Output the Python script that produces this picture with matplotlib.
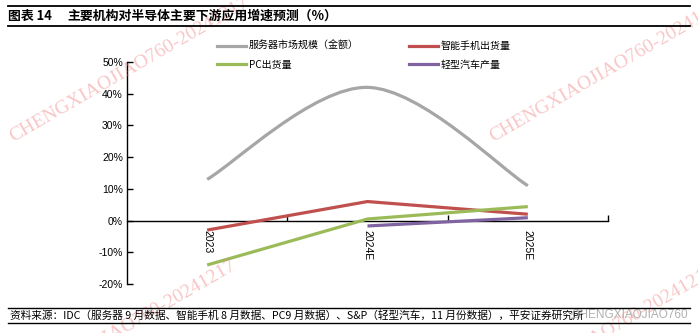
import numpy as np
import matplotlib
matplotlib.use("Agg")
import matplotlib.pyplot as plt
from matplotlib.path import Path
from matplotlib.patches import PathPatch
from matplotlib.lines import Line2D
from matplotlib.ticker import FixedLocator, FuncFormatter

plt.rcParams['font.family'] = ['Liberation Sans', 'Noto Sans CJK SC', 'DejaVu Sans']
CJK = ['Noto Sans CJK SC', 'DejaVu Sans']

# ---- data ----
years = ["2023", "2024E", "2025E"]
server = [13, 42, 11]          # 服务器市场规模（金额）
phone = [-3, 6, 2]             # 智能手机出货量
pc = [-14, 0.5, 4.4]           # PC出货量
car = [np.nan, -1.7, 0.9]      # 轻型汽车产量
y_ticks = [-20, -10, 0, 10, 20, 30, 40, 50]

names = ["服务器市场规模（金额）", "智能手机出货量", "PC出货量", "轻型汽车产量"]
colors = ["#A6A6A6", "#C0504D", "#9BBB59", "#8064A2"]

W, H = 698, 333
fig = plt.figure(figsize=(W / 100, H / 100), dpi=100)

def fx(px):
    return px / W

def fy(py):
    return 1 - py / H

ax = fig.add_axes([fx(127), fy(284), fx(608) - fx(127), fy(62) - fy(284)])
x = np.arange(len(years))
lw = 2.3

# smoothed server curve (cubic Bezier through the points)
pts = np.column_stack([x, server]).astype(float)
verts = [tuple(pts[0])]
codes = [Path.MOVETO]
n = len(pts)
for i in range(n - 1):
    p_prev = pts[max(i - 1, 0)]
    p0 = pts[i]
    p1 = pts[i + 1]
    p_next = pts[min(i + 2, n - 1)]
    c1 = p0 + (p1 - p_prev) / 6.0
    c2 = p1 - (p_next - p0) / 6.0
    verts += [tuple(c1), tuple(c2), tuple(p1)]
    codes += [Path.CURVE4] * 3
ax.add_patch(PathPatch(Path(verts, codes), fill=False, edgecolor=colors[0],
                       lw=lw, capstyle='butt', zorder=3))

ax.plot(x, phone, color=colors[1], lw=lw, solid_capstyle='butt', zorder=4)
ax.plot(x, pc, color=colors[2], lw=lw, solid_capstyle='butt', zorder=5)
ax.plot(x, car, color=colors[3], lw=lw, solid_capstyle='butt', zorder=6)

ax.set_xlim(-0.5, len(years) - 0.5)
ax.set_ylim(-20, 50)

for s in ["top", "right"]:
    ax.spines[s].set_visible(False)
ax.spines["bottom"].set_position(("data", 0))
ax.spines["left"].set_linewidth(1.0)
ax.spines["bottom"].set_linewidth(1.0)

ax.set_yticks(y_ticks)
ax.yaxis.set_major_formatter(FuncFormatter(lambda v, p: f"{int(v)}%"))
ax.tick_params(axis='y', direction='in', length=4, width=1, labelsize=7.5, pad=3)

ax.set_xticks(x)
ax.set_xticklabels(years)
ax.xaxis.set_minor_locator(FixedLocator(np.arange(0.5, len(years), 1.0)))
ax.tick_params(axis='x', which='major', length=0, labelsize=7.5, pad=7,
               labelrotation=270)
ax.tick_params(axis='x', which='minor', direction='in', length=4, width=1)

# legend
order = [0, 2, 1, 3]
handles = [Line2D([], [], color=colors[i], lw=lw) for i in order]
labels = [names[i] for i in order]
leg = fig.legend(handles, labels, loc='upper left',
                 bbox_to_anchor=(fx(217), fy(41)), ncol=2, frameon=False,
                 prop={'family': CJK, 'size': 7.2}, handlelength=2.9,
                 handletextpad=0.3, columnspacing=5.0, labelspacing=0.85,
                 borderaxespad=0, borderpad=0)

# watermarks
wm = "CHENGXIAOJIAO760-20241217"
for (px, py) in [(13, 142), (493, 142), (0, 405), (480, 410)]:
    fig.text(fx(px), fy(py), wm, rotation=30, rotation_mode='anchor',
             ha='left', va='baseline', family='Liberation Serif', fontsize=14,
             color='#F08080', alpha=0.45, zorder=0)
fig.text(fx(688), fy(315), "CHENGXIAOJIAO760", ha='right', va='center',
         fontsize=8.5, color='#B0B0B0', zorder=0)

# title and rules
fig.add_artist(Line2D([fx(8), fx(690)], [fy(6), fy(6)], color='black', lw=1.3))
fig.add_artist(Line2D([fx(8), fx(690)], [fy(26), fy(26)], color='black', lw=1.3))
fig.text(fx(8), fy(16), "图表 14", ha='left', va='center', family=CJK,
         fontsize=9.3, fontweight='bold')
fig.text(fx(67), fy(16), "主要机构对半导体主要下游应用增速预测（%）", ha='left',
         va='center', family=CJK, fontsize=9.3, fontweight='bold')

# source note
fig.add_artist(Line2D([fx(8), fx(690)], [fy(308), fy(308)], color='black', lw=1.0))
fig.add_artist(Line2D([fx(8), fx(690)], [fy(323), fy(323)], color='black', lw=1.0))
fig.text(fx(10), fy(315.5),
         "资料来源：IDC（服务器 9 月数据、智能手机 8 月数据、PC9 月数据）、S&P（轻型汽车，11 月份数据），平安证券研究所",
         ha='left', va='center', family=CJK, fontsize=7.7, zorder=2)

fig.savefig("out.png", dpi=100)
